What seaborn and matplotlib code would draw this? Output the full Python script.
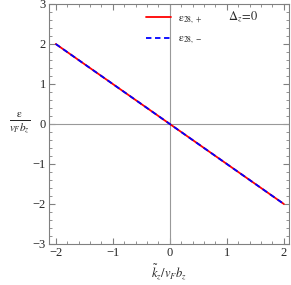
import matplotlib
matplotlib.use("Agg")
import matplotlib.pyplot as plt
from matplotlib.ticker import MultipleLocator
import seaborn as sns
import pandas as pd

# data: both branches coincide, eps = -k
k_vals = [-2.0, -1.0, 0.0, 1.0, 2.0]
eps_plus = [2.0, 1.0, 0.0, -1.0, -2.0]
eps_minus = [2.0, 1.0, 0.0, -1.0, -2.0]
x_ticks = [-2, -1, 0, 1, 2]
y_ticks = [-3, -2, -1, 0, 1, 2, 3]

sns.set_theme(style="ticks")
plt.rcParams["font.family"] = ["Liberation Serif", "DejaVu Serif"]
plt.rcParams["mathtext.fontset"] = "stix"

df = pd.DataFrame({"k": k_vals + k_vals,
                   "eps": eps_plus + eps_minus,
                   "branch": ["+"] * len(k_vals) + ["-"] * len(k_vals)})

fig = plt.figure(figsize=(2.91, 2.85), dpi=100)
ax = fig.add_axes([0.168, 0.144, 0.825, 0.842])

ax.axhline(0, color="#999999", lw=0.8, zorder=1)
ax.axvline(0, color="#999999", lw=0.8, zorder=1)

sns.lineplot(data=df[df.branch == "+"], x="k", y="eps", ax=ax, color="red",
             lw=1.3, label=r"$\mathrm{\epsilon}_{28,+}$", zorder=3)
sns.lineplot(data=df[df.branch == "-"], x="k", y="eps", ax=ax, color="blue",
             lw=1.3, ls=(0, (3, 2)), label=r"$\mathrm{\epsilon}_{28,-}$", zorder=4)

ax.set_xlim(-2.12, 2.09)
ax.set_ylim(-3, 3)
ax.set_xticks(x_ticks)
ax.set_yticks(y_ticks)
ax.set_xticklabels([str(t) if t >= 0 else "\u2212" + str(-t) for t in x_ticks])
ax.set_yticklabels([str(t) if t >= 0 else "\u2212" + str(-t) for t in y_ticks])
ax.xaxis.set_minor_locator(MultipleLocator(0.2))
ax.yaxis.set_minor_locator(MultipleLocator(0.2))
ax.tick_params(which="both", direction="in", top=True, right=True,
               color="#808080", labelsize=9, pad=2)
ax.tick_params(which="major", length=4, width=0.8)
ax.tick_params(which="minor", length=2, width=0.6)
for s in ax.spines.values():
    s.set_color("#808080")
    s.set_linewidth(0.8)

ax.set_xlabel(r"$\tilde{k}_z/v_F b_z$", fontsize=9, va="center")
ax.xaxis.set_label_coords(0.5, -0.117)
ax.set_ylabel(r"$\frac{\mathrm{\epsilon}}{v_F b_z}$", fontsize=11.5, rotation=0, va="center")
ax.yaxis.set_label_coords(-0.12, 0.5)

ax.legend(loc="upper left", bbox_to_anchor=(0.375, 0.99), frameon=False,
          fontsize=8, handlelength=2.3, handletextpad=0.6, labelspacing=0.75,
          borderaxespad=0.2)
ax.text(0.745, 0.946, r"$\Delta_z\!=\!0$", transform=ax.transAxes,
        fontsize=9, va="center", ha="left")

fig.savefig("out.png", dpi=100)
